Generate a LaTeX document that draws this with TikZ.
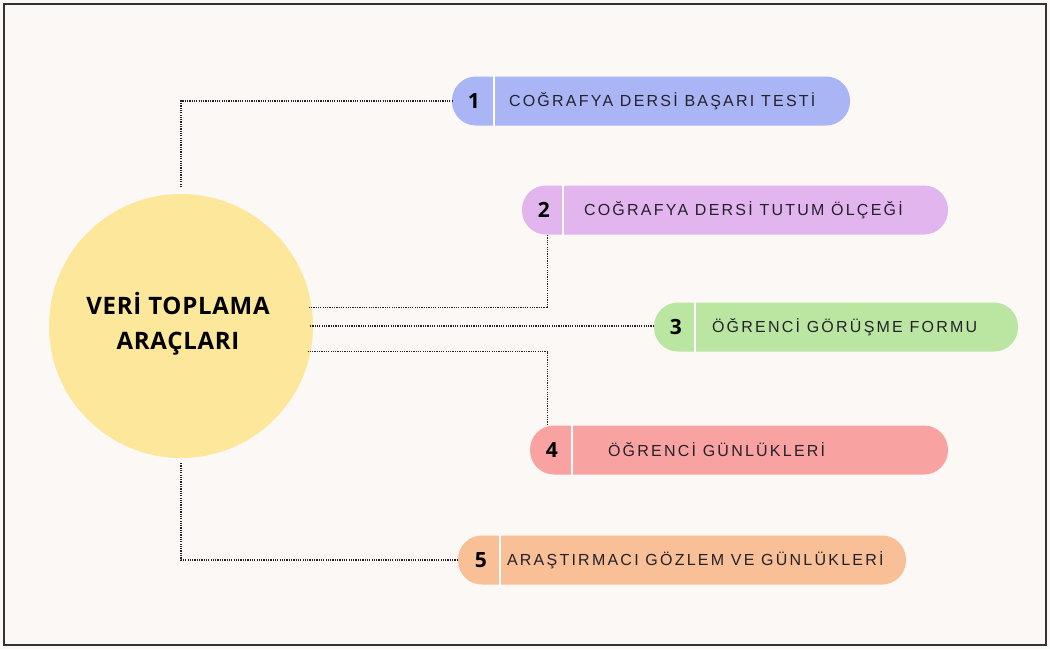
\documentclass[tikz,border=0pt]{standalone}
\usepackage{fontspec}
\setmainfont{Open Sans}
\newfontfamily\pillfont[LetterSpace=14]{Liberation Sans}
\newfontfamily\titlefont[LetterSpace=3]{Open Sans}
\newfontfamily\numfont{Open Sans}
\usetikzlibrary{calc}
\definecolor{bgc}{HTML}{FBF8F5}
\definecolor{framec}{HTML}{333333}
\definecolor{suny}{HTML}{FCE79B}
\definecolor{blu}{HTML}{AAB5F6}
\definecolor{lav}{HTML}{E3B5EF}
\definecolor{grn}{HTML}{BAE6A2}
\definecolor{sal}{HTML}{F8A3A1}
\definecolor{pch}{HTML}{F9BF96}
\definecolor{ink}{HTML}{24212B}
\tikzset{
  pill/.style={draw=none, fill=#1, rounded corners=24pt, minimum height=49pt, inner sep=0pt},
  num/.style={font=\numfont\bfseries\fontsize{21}{23}\selectfont, text=black, inner sep=0pt},
  label/.style={anchor=west, font=\pillfont\fontsize{16}{18}\selectfont, text=ink, inner sep=0pt},
  divider/.style={draw=white, line width=2.5pt},
  conn/.style={draw=ink, line width=1.3pt, dash pattern=on 1.2pt off 1.1pt},
}
\begin{document}
\begin{tikzpicture}[x=1pt,y=-1pt]
  % page background and frame
  \fill[bgc] (0,0) rectangle (1050,649);
  \draw[framec, line width=2pt] (4,4) rectangle (1046,645);
  \useasboundingbox (0,0) rectangle (1050,649);

  % central circle
  \node[circle, fill=suny, minimum size=264pt, inner sep=0pt, outer sep=0pt] (c) at (181,326) {};
  \node[font=\titlefont\bfseries\fontsize{24}{35}\selectfont, align=center, text=black] (ct) at (178,324)
    {VER\.I TOPLAMA\\ARAÇLARI};

  % pills
  \node[pill=blu, minimum width=398pt] (p1) at (651,101) {};
  \node[pill=lav, minimum width=426pt] (p2) at (735,210) {};
  \node[pill=grn, minimum width=364pt] (p3) at (836,327) {};
  \node[pill=sal, minimum width=418pt] (p4) at (739,450) {};
  \node[pill=pch, minimum width=448pt] (p5) at (682,560) {};

  % white dividers between number and label
  \draw[divider] ([xshift=42pt]p1.north west) -- ([xshift=42pt]p1.south west);
  \draw[divider] ([xshift=41pt]p2.north west) -- ([xshift=41pt]p2.south west);
  \draw[divider] ([xshift=41pt]p3.north west) -- ([xshift=41pt]p3.south west);
  \draw[divider] ([xshift=42pt]p4.north west) -- ([xshift=42pt]p4.south west);
  \draw[divider] ([xshift=42pt]p5.north west) -- ([xshift=42pt]p5.south west);

  % numbers
  \node[num] (n1) at ([xshift=22pt]p1.west) {1};
  \node[num] (n2) at ([xshift=22pt]p2.west) {2};
  \node[num] (n3) at ([xshift=22pt]p3.west) {3};
  \node[num] (n4) at ([xshift=22pt]p4.west) {4};
  \node[num] (n5) at ([xshift=23pt]p5.west) {5};

  % labels
  \node[label] (t1) at ([xshift=57pt]p1.west) {COĞRAFYA DERS\.I BAŞARI TEST\.I};
  \node[label] (t2) at ([xshift=62pt]p2.west) {COĞRAFYA DERS\.I TUTUM ÖLÇEĞ\.I};
  \node[label] (t3) at ([xshift=58pt]p3.west) {ÖĞRENC\.I GÖRÜŞME FORMU};
  \node[label] (t4) at ([xshift=78pt]p4.west) {ÖĞRENC\.I GÜNLÜKLER\.I};
  \node[label] (t5) at ([xshift=49pt]p5.west) {ARAŞTIRMACI GÖZLEM VE GÜNLÜKLER\.I};

  % dotted connectors
  \draw[conn] ([yshift=7pt]c.north) |- (p1.west);
  \draw[conn, shorten <=-3pt] (c.8.7) -| ([xshift=26pt]p2.south west);
  \draw[conn, shorten <=-3pt] (c.east) -- (c.east -| p3.west);
  \draw[conn, shorten <=-3pt] (c.-11.4) -| ([xshift=18pt]p4.north west);
  \draw[conn] ([yshift=-5pt]c.south) |- (p5.west);
\end{tikzpicture}
\end{document}
